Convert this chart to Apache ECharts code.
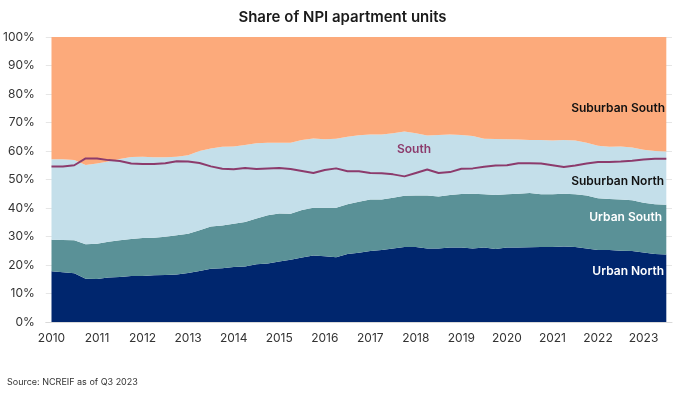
<!DOCTYPE html>
<html>
<head>
<meta charset="utf-8">
<script src="https://cdn.jsdelivr.net/npm/echarts@6/dist/echarts.min.js"></script>
<style>
html,body{margin:0;padding:0;background:#fff;}
#chart{width:685px;height:398px;}
</style>
</head>
<body>
<div id="chart"></div>
<script>
// Quarterly categories, 2010 Q1 .. 2023 Q3
var years = ['2010','2011','2012','2013','2014','2015','2016','2017','2018','2019','2020','2021','2022','2023'];
var categories = [];
years.forEach(function (y) {
  ['Q1','Q2','Q3','Q4'].forEach(function (q) {
    if (!(y === '2023' && q === 'Q4')) categories.push(y + ' ' + q);
  });
});

var urbanNorth = [17.8,17.5,17.1,15.2,15.1,15.6,15.8,16.1,16.1,16.4,16.5,16.7,17.2,17.9,18.7,18.9,19.3,19.5,20.3,20.5,
  21.2,21.8,22.6,23.3,23.1,22.7,23.9,24.3,24.9,25.3,25.8,26.3,26.3,25.8,25.8,26.1,26.1,25.8,26.1,25.6,
  26.1,26.1,26.2,26.3,26.3,26.5,26.3,25.8,25.3,25.3,25.0,24.9,24.4,23.9,23.7];
var urbanSouth = [11.1,11.3,11.6,12.1,12.4,12.6,12.9,13.0,13.4,13.2,13.4,13.7,13.8,14.3,14.8,15.0,15.2,15.6,16.0,17.0,
  16.9,16.2,16.7,16.8,17.0,17.4,17.4,17.9,18.1,17.7,17.8,18.0,18.1,18.6,18.2,18.5,18.8,19.2,18.7,19.0,
  18.7,18.9,19.1,18.5,18.5,18.5,18.5,18.6,18.1,17.9,18.0,17.8,17.4,17.4,17.4];
var suburbanNorth = [28.2,28.3,28.1,27.8,28.1,28.1,28.5,28.8,28.5,28.2,27.9,27.6,27.5,27.8,27.4,27.6,27.1,27.0,26.4,25.4,
  24.8,24.9,24.6,24.3,24.0,24.2,23.7,23.3,22.8,22.8,22.6,22.5,21.8,21.0,21.6,21.2,20.7,20.3,19.5,19.6,
  19.3,19.0,18.6,19.1,18.9,18.9,18.9,18.5,18.4,18.3,18.6,18.5,18.6,18.7,18.7];
var suburbanSouth = [42.9,42.9,43.2,44.9,44.4,43.7,42.8,42.1,42.0,42.2,42.2,42.0,41.5,40.0,39.1,38.5,38.4,37.9,37.3,37.1,
  37.1,37.1,36.1,35.6,35.9,35.7,35.0,34.5,34.2,34.2,33.8,33.2,33.8,34.6,34.4,34.2,34.4,34.7,35.7,35.8,
  35.9,36.0,36.1,36.1,36.3,36.1,36.3,37.1,38.2,38.5,38.4,38.8,39.6,40.0,40.2];
var south = [54.6,54.6,55.0,57.4,57.4,56.8,56.5,55.6,55.4,55.4,55.7,56.4,56.3,55.8,54.6,53.8,53.6,54.0,53.7,53.9,
  54.0,53.7,53.0,52.3,53.3,53.9,52.9,52.9,52.3,52.2,51.8,51.1,52.3,53.5,52.3,52.6,53.8,53.9,54.5,54.9,
  55.0,55.7,55.7,55.6,55.0,54.4,54.9,55.6,56.1,56.1,56.3,56.6,57.0,57.3,57.3];

var yTicks = [0,10,20,30,40,50,60,70,80,90,100];

var FONT = 'Inter, Lato, "Noto Sans", sans-serif';
var chart = echarts.init(document.getElementById('chart'), null, {renderer: 'canvas'});

function areaSeries(name, data, color) {
  return {
    name: name, type: 'line', stack: 'total', data: data, symbol: 'none',
    lineStyle: {width: 0}, areaStyle: {color: color, opacity: 1},
    itemStyle: {color: color}, emphasis: {disabled: true}
  };
}

function label(text, pos, color) {
  var el = {type: 'text', z: 100, style: {text: text, fill: color, font: '600 12px ' + FONT}};
  for (var k in pos) el[k] = pos[k];
  return el;
}

chart.setOption({
  animation: false,
  backgroundColor: '#ffffff',
  title: {
    text: 'Share of NPI apartment units', left: 'center', top: 5,
    textStyle: {fontFamily: FONT, fontSize: 15, fontWeight: 600, color: '#1a1a1a'}
  },
  grid: {left: 45, right: 13, top: 37, bottom: 76},
  xAxis: {
    type: 'category', data: categories, boundaryGap: true,
    axisLine: {lineStyle: {color: '#d9d9d9', width: 1}},
    axisTick: {interval: 0, length: 4, lineStyle: {color: '#d0d0d0'}},
    axisLabel: {
      interval: 3, margin: 10, color: '#333333', fontFamily: FONT, fontSize: 12,
      formatter: function (v) { return v.split(' ')[0]; }
    },
    splitLine: {show: false}
  },
  yAxis: {
    type: 'value', min: yTicks[0], max: yTicks[yTicks.length - 1], interval: 10,
    axisLine: {show: false}, axisTick: {show: false},
    axisLabel: {formatter: '{value}%', color: '#333333', fontFamily: FONT, fontSize: 12, margin: 11},
    splitLine: {lineStyle: {color: '#e6e6e6', width: 1}}
  },
  series: [
    areaSeries('Urban North', urbanNorth, '#00266e'),
    areaSeries('Urban South', urbanSouth, '#5a9197'),
    areaSeries('Suburban North', suburbanNorth, '#c4dfea'),
    areaSeries('Suburban South', suburbanSouth, '#fcaa7b'),
    {
      name: 'South', type: 'line', data: south, symbol: 'none', z: 5,
      lineStyle: {color: '#8c3b6c', width: 2}, itemStyle: {color: '#8c3b6c'},
      emphasis: {disabled: true}
    }
  ],
  graphic: [
    label('Suburban South', {right: 20, top: 102}, '#111111'),
    label('Suburban North', {right: 21, top: 175}, '#111111'),
    label('Urban South', {right: 23, top: 211}, '#ffffff'),
    label('Urban North', {right: 21, top: 265}, '#ffffff'),
    label('South', {left: 397, top: 143}, '#8c3b6c'),
    {type: 'text', z: 100, left: 7, top: 378, style: {text: 'Source: NCREIF as of Q3 2023', fill: '#333333', font: '9px ' + FONT}}
  ]
});
</script>
</body>
</html>
